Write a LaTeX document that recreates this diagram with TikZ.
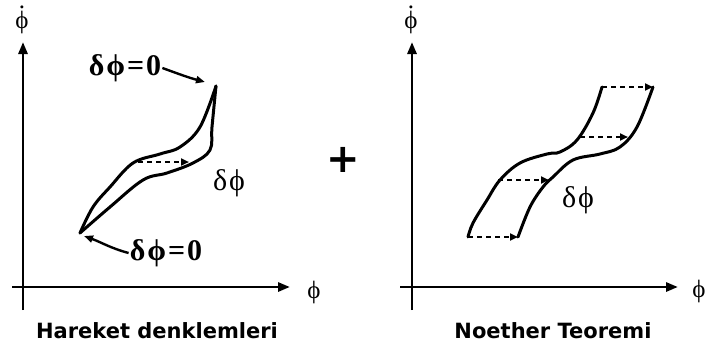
\documentclass[tikz,border=0pt]{standalone}
\usepackage{fontspec}
\setmainfont{Liberation Serif}
\newfontfamily\capfont{DejaVu Sans}
\usetikzlibrary{arrows.meta}
\newcommand\phidot{\ooalign{ϕ\cr\hidewidth\raisebox{0.78em}{.}\hidewidth\cr}}

\begin{document}
\begin{tikzpicture}[x=1pt,y=-1pt,>={Triangle[length=12pt,width=9pt]},
    axis/.style={line width=2.8pt,->},
    curve/.style={line width=3pt,line cap=round,line join=round},
    varline/.style={line width=2.4pt,dash pattern=on 5pt off 4pt,-{Triangle[length=8pt,width=7pt]}},
    pointer/.style={line width=2.4pt,-{Triangle[length=9pt,width=7pt]}},
    lbl/.style={inner sep=0pt,font=\fontsize{30}{32}\selectfont},
    axlbl/.style={inner sep=0pt,font=\fontsize{25}{28}\selectfont},
    zero/.style={inner sep=1pt,font=\fontsize{30}{32}\selectfont\bfseries},
    title/.style={font=\capfont\bfseries\fontsize{21}{24}\selectfont}]
    \useasboundingbox (0,0) rectangle (705,351);
    % hareket denklemleri
    \coordinate (xl0) at (12,287);
    \coordinate (xl1) at (290,287);
    \coordinate (yl0) at (23,310);
    \coordinate (yl1) at (23,42);
    \draw[axis] (xl0) -- (xl1);
    \draw[axis] (yl0) -- (yl1);
    \node[axlbl,anchor=base] (ylabL) at (22,28) {\phidot};
    \node[axlbl] (xlabL) at (314,292) {ϕ};
    \coordinate (startL) at (80,233);
    \coordinate (endL) at (216,86);
    \draw[curve] plot[smooth,tension=0.6] coordinates {(80,233) (93,207) (110,187) (133,163) (160,154) (180,147) (200,127) (216,86)};
    \draw[curve] plot[smooth,tension=0.6] coordinates {(80,233) (110,207) (143,180) (167,173) (193,163) (210,150) (212,127) (216,86)};
    \coordinate (dL0) at (138,162);
    \coordinate (dL1) at (189,162);
    \draw[varline] (dL0) -- (dL1);
    \node[lbl] (dphiL) at (229,183) {δ\kern2pt ϕ};
    \node[zero] (topzero) at (125,68) {δ\kern2pt ϕ\kern2pt=\kern2pt 0};
    \node[zero] (botzero) at (166,253) {δ\kern2pt ϕ\kern2pt=\kern2pt 0};
    \coordinate (tipT) at (205,82);
    \coordinate (tipB) at (84,236);
    \draw[pointer] (topzero.east) to[out=-20,in=165] (tipT);
    \draw[pointer] (botzero.west) to[out=165,in=-20] (tipB);
    \node[title] (capL) at (157,331) {Hareket denklemleri};
    % arti
    \node[font=\capfont\bfseries\fontsize{40}{44}\selectfont] (plus) at (343,160) {+};
    % noether teoremi
    \coordinate (xr0) at (400,287);
    \coordinate (xr1) at (678,287);
    \coordinate (yr0) at (412,310);
    \coordinate (yr1) at (412,42);
    \draw[axis] (xr0) -- (xr1);
    \draw[axis] (yr0) -- (yr1);
    \node[axlbl,anchor=base] (ylabR) at (411,28) {\phidot};
    \node[axlbl] (xlabR) at (699,291) {ϕ};
    \draw[curve] plot[smooth,tension=0.6] coordinates {(468,237) (473,223) (487,200) (500,180) (520,163) (547,154) (560,152) (577,140) (593,113) (602,87)};
    \draw[curve] plot[smooth,tension=0.6] coordinates {(518,237) (530,207) (543,187) (553,177) (573,160) (600,154) (620,147) (637,127) (653,87)};
    \coordinate (dA0) at (468,237);
    \coordinate (dA1) at (518,237);
    \coordinate (dB0) at (498,180);
    \coordinate (dB1) at (549,180);
    \coordinate (dC0) at (580,137);
    \coordinate (dC1) at (628,137);
    \coordinate (dD0) at (602,87);
    \coordinate (dD1) at (653,87);
    \draw[varline] (dA0) -- (dA1);
    \draw[varline] (dB0) -- (dB1);
    \draw[varline] (dC0) -- (dC1);
    \draw[varline] (dD0) -- (dD1);
    \node[lbl] (dphiR) at (578,200) {δ\kern2pt ϕ};
    \node[title] (capR) at (553,331) {Noether Teoremi};
\end{tikzpicture}
\end{document}
